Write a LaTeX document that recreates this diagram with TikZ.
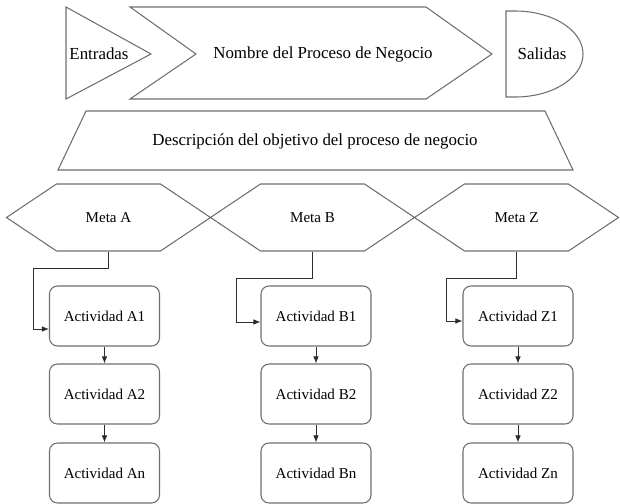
\documentclass[tikz,border=0pt]{standalone}
\usepackage{fontspec}
\setmainfont{Liberation Serif}
\usetikzlibrary{arrows.meta,positioning,shapes.symbols}
\definecolor{shapegray}{RGB}{110,110,110}
\definecolor{linedark}{RGB}{45,45,45}
\tikzset{
    % Shape styles
    shape line/.style={
        draw=shapegray,
        line width=0.75pt
    },
    title text/.style={
        font=\fontsize{12}{14}\selectfont,
        inner sep=0pt
    },
    goal hex/.style={
        shape line,
        signal,
        signal to=west and east,
        signal pointer angle=67.6,
        minimum width=5.1cm,
        minimum height=1.675cm,
        font=\fontsize{10.7}{13}\selectfont
    },
    activity box/.style={
        shape line,
        rectangle,
        rounded corners=0.2cm,
        minimum width=2.75cm,
        minimum height=1.5cm,
        font=\fontsize{10.7}{13}\selectfont
    },
    % Arrow styles
    flow arrow/.style={
        -{Latex[length=5pt,width=4pt]},
        draw=linedark,
        line width=0.6pt
    }
}

\begin{document}
\begin{tikzpicture}[x=0.025cm, y=-0.025cm]
    \useasboundingbox (0,0) rectangle (620,504);

    % Process header
    \draw[shape line] (66,7) -- (151,54) -- (66,99) -- cycle;
    \node[title text] (entradas) at (99,54) {Entradas};

    \draw[shape line] (130,7) -- (426,7) -- (492,54) -- (426,99) -- (130,99) -- (196,54) -- cycle;
    \node[title text] (nombre) at (323,54) {Nombre del Proceso de Negocio};

    \draw[shape line] (515,97) -- (506,97) -- (506,11) -- (515,11)
        arc[start angle=90, end angle=-90, x radius=1.7cm, y radius=1.075cm];
    \node[title text] (salidas) at (542,54) {Salidas};

    \draw[shape line] (86,111) -- (545,111) -- (573,170) -- (58,170) -- cycle;
    \node[title text] (descripcion) at (315,141) {Descripción del objetivo del proceso de negocio};

    % Goals and activities
    \foreach \c/\hx/\bx/\ely/\lx/\ey in {A/108.5/104.5/268/33/-0.325cm,
                                         B/312.5/316/278/236/-0.15cm,
                                         Z/516.5/518/278/446/-0.125cm} {
        \node[goal hex] (meta\c) at (\hx,217.5) {Meta \c};

        \node[activity box] (act\c1) at (\bx,316) {Actividad \c1};
        \node[activity box] (act\c2) at (\bx,394) {Actividad \c2};
        \node[activity box] (act\c3) at (\bx,473) {Actividad \c{}n};

        \draw[flow arrow] (meta\c.south) |- (\lx,\ely) |- ([yshift=\ey]act\c1.west);
        \draw[flow arrow] (act\c1) -- (act\c2);
        \draw[flow arrow] (act\c2) -- (act\c3);
    }
\end{tikzpicture}
\end{document}
